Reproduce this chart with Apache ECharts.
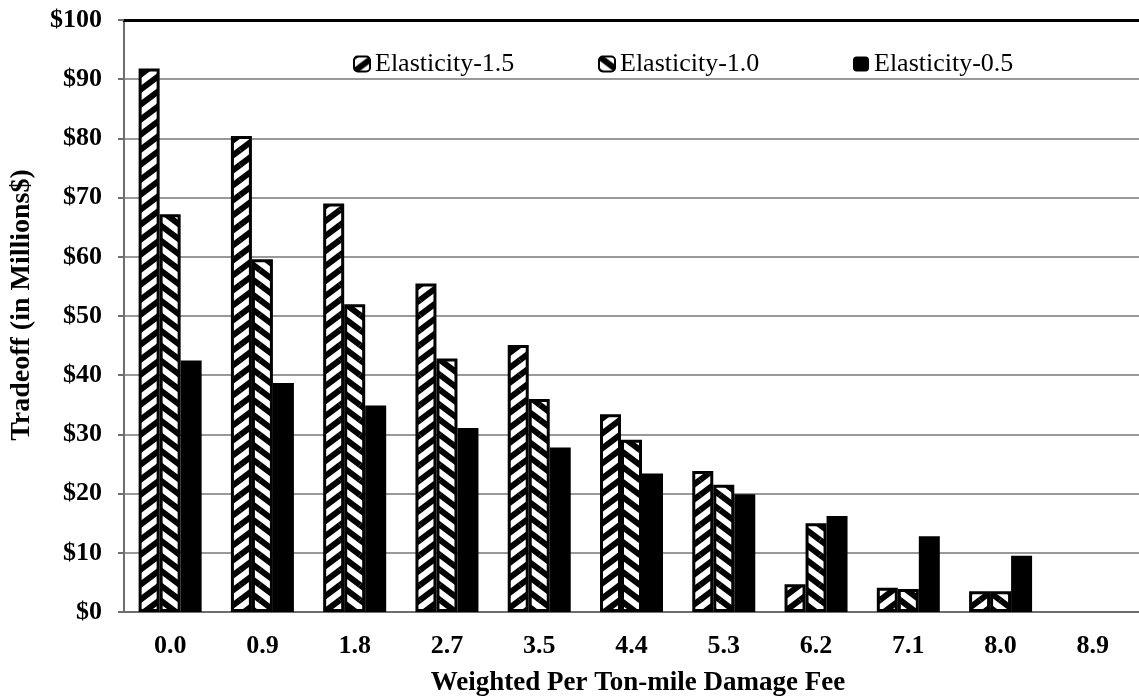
<!DOCTYPE html>
<html>
<head>
<meta charset="utf-8">
<script src="https://cdn.jsdelivr.net/npm/echarts@6/dist/echarts.min.js"></script>
<style>
  html, body { margin: 0; padding: 0; background: #fff; }
  #chart { width: 1139px; height: 698px; }
</style>
</head>
<body>
<div id="chart"></div>
<script>
// Weighted per ton-mile damage fee (category axis)
const feeLabels = ['0.0', '0.9', '1.8', '2.7', '3.5', '4.4', '5.3', '6.2', '7.1', '8.0', '8.9'];

// Tradeoff in millions of dollars, one array per demand elasticity
const elasticity15 = [91.8, 80.4, 69.0, 55.5, 45.1, 33.4, 23.8, 4.7, 4.1, 3.5, 0];
const elasticity10 = [67.2, 59.6, 52.0, 42.8, 36.0, 29.1, 21.5, 15.0, 3.9, 3.5, 0];
const elasticity05 = [42.5, 38.7, 34.9, 31.1, 27.8, 23.4, 19.9, 16.2, 12.8, 9.5, 0];

const seriesNames = ['Elasticity-1.5', 'Elasticity-1.0', 'Elasticity-0.5'];

const FONT = '"Liberation Serif", "Times New Roman", serif';

// Diagonal hatch tile; dir = 1 draws "/" stripes, dir = -1 draws "\" stripes
function hatch(dir) {
  const w = 20, h = 15;
  const c = document.createElement('canvas');
  c.width = w; c.height = h;
  const ctx = c.getContext('2d');
  ctx.fillStyle = '#fff';
  ctx.fillRect(0, 0, w, h);
  ctx.strokeStyle = '#000';
  ctx.lineWidth = 6;
  for (let dx = -w; dx <= w; dx += w) {
    for (let dy = -h; dy <= h; dy += h) {
      ctx.beginPath();
      if (dir > 0) {
        ctx.moveTo(dx, dy + h);
        ctx.lineTo(dx + w, dy);
      } else {
        ctx.moveTo(dx, dy);
        ctx.lineTo(dx + w, dy + h);
      }
      ctx.stroke();
    }
  }
  return { image: c, repeat: 'repeat' };
}

// Outlined bars; an empty (zero) bar gets no outline so nothing is drawn for it
function outlinedData(values) {
  return values.map(v => ({
    value: v,
    itemStyle: { borderWidth: v === 0 ? 0 : 3 }
  }));
}

const chart = echarts.init(document.getElementById('chart'), null, { renderer: 'canvas' });

function legendAt(name, left) {
  return {
    data: [name],
    left: left,
    top: 51,
    padding: 0,
    icon: 'roundRect',
    itemWidth: 16,
    itemHeight: 15,
    selectedMode: false,
    textStyle: { fontFamily: FONT, fontSize: 26, color: '#000' }
  };
}

const barCommon = {
  type: 'bar',
  barWidth: 21,
  barGap: '0%',
  animation: false
};

chart.setOption({
  animation: false,
  backgroundColor: '#fff',
  grid: { left: 124, right: 0, top: 20, bottom: 86, outerBoundsMode: 'none', containLabel: false },
  legend: [
    legendAt(seriesNames[0], 353),
    legendAt(seriesNames[1], 598),
    legendAt(seriesNames[2], 853)
  ],
  xAxis: [
    {
      type: 'category',
      data: feeLabels,
      name: 'Weighted Per Ton-mile Damage Fee',
      nameLocation: 'middle',
      nameGap: 58,
      nameTextStyle: {
        fontFamily: FONT, fontSize: 27, fontWeight: 'bold', color: '#000',
        padding: [0, 0, 0, 13]
      },
      axisLine: { lineStyle: { color: '#6e6e6e', width: 2 } },
      axisTick: { show: false },
      axisLabel: {
        margin: 21,
        fontFamily: FONT, fontSize: 26, fontWeight: 'bold', color: '#000'
      },
      splitLine: { show: false }
    },
    {
      // plain black rule along the top of the plot
      type: 'category',
      data: feeLabels,
      position: 'top',
      axisLine: { lineStyle: { color: '#000', width: 3 } },
      axisTick: { show: false },
      axisLabel: { show: false },
      splitLine: { show: false }
    }
  ],
  yAxis: {
    type: 'value',
    min: 0,
    max: 100,
    interval: 10,
    name: 'Tradeoff (in Millions$)',
    nameLocation: 'middle',
    nameGap: 88,
    nameTextStyle: {
      fontFamily: FONT, fontSize: 28, fontWeight: 'bold', color: '#000',
      padding: [0, 0, 0, 22]
    },
    axisLine: { show: true, lineStyle: { color: '#6e6e6e', width: 2 } },
    axisTick: { show: true, length: 6, lineStyle: { color: '#6e6e6e', width: 2 } },
    axisLabel: {
      margin: 22,
      fontFamily: FONT, fontSize: 26, fontWeight: 'bold', color: '#000',
      formatter: v => '$' + v
    },
    splitLine: { show: true, lineStyle: { color: '#999', width: 2 } }
  },
  series: [
    Object.assign({}, barCommon, {
      name: seriesNames[0],
      data: outlinedData(elasticity15),
      itemStyle: { color: hatch(1), borderColor: '#000', borderWidth: 3 }
    }),
    Object.assign({}, barCommon, {
      name: seriesNames[1],
      data: outlinedData(elasticity10),
      itemStyle: { color: hatch(-1), borderColor: '#000', borderWidth: 3 }
    }),
    Object.assign({}, barCommon, {
      name: seriesNames[2],
      data: elasticity05,
      itemStyle: { color: '#000', borderColor: '#000', borderWidth: 0 }
    })
  ]
});
</script>
</body>
</html>
